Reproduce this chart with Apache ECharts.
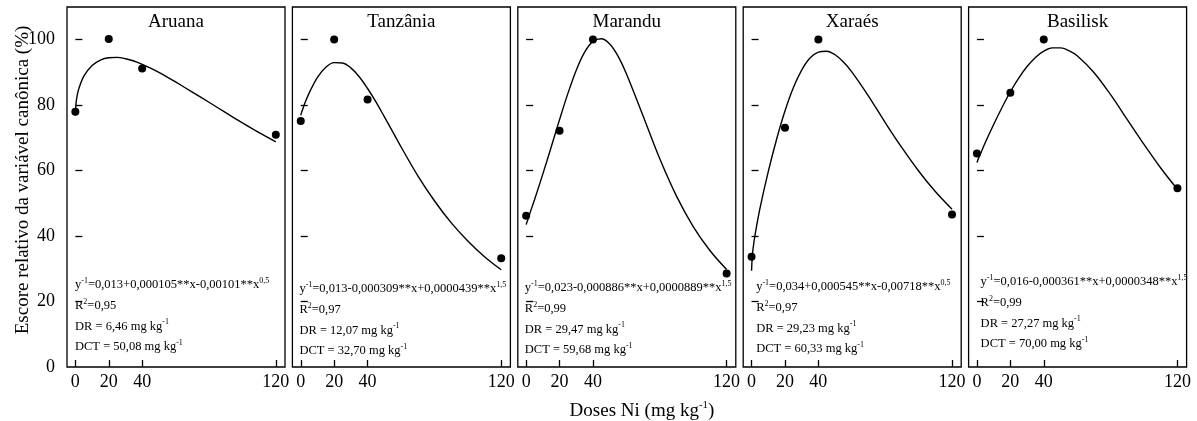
<!DOCTYPE html>
<html>
<head>
<meta charset="utf-8">
<script src="https://cdn.jsdelivr.net/npm/echarts@6/dist/echarts.min.js"></script>
<style>html,body{margin:0;padding:0;background:#fff;}#c{width:1197px;height:421px;}</style>
</head>
<body>
<div id="c"></div>
<script>
const cultivars = ['Aruana', 'Tanzânia', 'Marandu', 'Xaraés', 'Basilisk'];
const doses = [0, 20, 40, 120];
const doseTicks = [0, 20, 40, 120];
const scoreTicks = [0, 20, 40, 60, 80, 100];
const obsAruana = [78.0, 100.2, 91.2, 71.0];
const obsTanzania = [75.2, 100.1, 81.7, 33.2];
const obsMarandu = [46.2, 72.2, 100.1, 28.6];
const obsXaraes = [33.7, 73.1, 100.1, 46.6];
const obsBasilisk = [65.2, 83.8, 100.1, 54.6];
const fitDoses = [0, 0.5, 1, 2, 5, 10, 15, 20, 25, 30, 35, 40, 45, 50, 55, 60, 70, 80, 90, 100, 110, 120];
const fitAruana = [76.9, 81.0, 82.7, 84.9, 88.8, 92.1, 93.8, 94.5, 94.6, 94.2, 93.5, 92.5, 91.3, 90.0, 88.6, 87.1, 84.0, 80.9, 77.7, 74.6, 71.6, 68.8];
const fitTanzania = [76.9, 77.8, 78.5, 80.0, 83.7, 88.5, 91.6, 93.0, 92.9, 91.4, 88.7, 85.1, 81.0, 76.5, 71.9, 67.3, 58.5, 50.8, 44.1, 38.5, 33.7, 29.7];
const fitMarandu = [43.5, 44.3, 45.0, 46.6, 51.1, 59.0, 67.2, 75.6, 83.6, 90.7, 96.2, 99.5, 100.3, 98.7, 95.0, 89.6, 76.7, 63.6, 52.2, 42.9, 35.6, 29.8];
const fitXaraes = [29.4, 34.3, 36.5, 40.1, 48.4, 59.7, 69.6, 78.2, 85.3, 90.7, 94.4, 96.2, 96.5, 95.4, 93.2, 90.2, 82.8, 74.7, 67.0, 59.9, 53.6, 48.2];
const fitBasilisk = [62.5, 63.2, 63.8, 65.0, 68.6, 74.1, 79.3, 84.1, 88.3, 91.8, 94.6, 96.5, 97.5, 97.5, 96.7, 95.1, 90.0, 83.2, 75.6, 68.0, 60.8, 54.3];
const equations = [
  'y{s|-1}=0,013+0,000105**x-0,00101**x{s|0,5}',
  'y{s|-1}=0,013-0,000309**x+0,0000439**x{s|1,5}',
  'y{s|-1}=0,023-0,000886**x+0,0000889**x{s|1,5}',
  'y{s|-1}=0,034+0,000545**x-0,00718**x{s|0,5}',
  'y{s|-1}=0,016-0,000361**x+0,0000348**x{s|1,5}'
];
const r2Values = ['0,95', '0,97', '0,99', '0,97', '0,99'];
const drValues = ['6,46', '12,07', '29,47', '29,23', '27,27'];
const dctValues = ['50,08', '32,70', '59,68', '60,33', '70,00'];
const yTitle = 'Escore relativo da variável canônica (%)';
const xTitle = 'Doses Ni (mg kg{s|-1})';

const obsAll = [obsAruana, obsTanzania, obsMarandu, obsXaraes, obsBasilisk];
const fitAll = [fitAruana, fitTanzania, fitMarandu, fitXaraes, fitBasilisk];

const FONT = '"Liberation Serif", "Times New Roman", serif';
const GL = 67, GSTEP = 225.4, GW = 218, GT = 7, GH = 360;
const textLeft = [8, 7, 7, 13, 12];
const textTop = [285, 289, 288, 287, 282];
const supRich = { s: { fontSize: 8, fontFamily: FONT, verticalAlign: 'top', lineHeight: 8, fill: '#000' } };

const grids = [], xAxes = [], yAxes = [], series = [], graphics = [];
cultivars.forEach((name, i) => {
  const left = GL + i * GSTEP;
  grids.push({ left: left, top: GT, width: GW, height: GH, show: true, borderColor: '#000', borderWidth: 1.3, backgroundColor: 'transparent', containLabel: false });
  xAxes.push({
    type: 'value', gridIndex: i, min: -5, max: 125.5,
    axisLine: { show: false },
    splitLine: { show: false },
    axisTick: { show: true, inside: true, length: 7, customValues: doseTicks, lineStyle: { color: '#000', width: 1.3 } },
    axisLabel: { show: true, customValues: doseTicks, color: '#000', fontFamily: FONT, fontSize: 18, margin: 6 }
  });
  yAxes.push({
    type: 'value', gridIndex: i, min: 0, max: 110, interval: 20,
    axisLine: { show: false },
    splitLine: { show: false },
    axisTick: { show: true, inside: true, length: 7, customValues: [20, 40, 60, 80, 100], lineStyle: { color: '#000', width: 1.3 } },
    axisLabel: { show: i === 0, customValues: scoreTicks, color: '#000', fontFamily: FONT, fontSize: 18, margin: 12 }
  });
  series.push({
    type: 'line', xAxisIndex: i, yAxisIndex: i, showSymbol: false, smooth: 0.35,
    lineStyle: { color: '#000', width: 1.4 }, silent: true,
    data: fitDoses.map((d, k) => [d, fitAll[i][k]])
  });
  series.push({
    type: 'scatter', xAxisIndex: i, yAxisIndex: i, symbolSize: 8, itemStyle: { color: '#000', opacity: 1 }, silent: true,
    data: doses.map((d, k) => [d, obsAll[i][k]])
  });
  graphics.push({ type: 'text', x: left + GW / 2, y: 22, style: { text: name, font: '19px ' + FONT, fill: '#000', textAlign: 'center', textVerticalAlign: 'middle' } });
  const tx = left + textLeft[i], ty = textTop[i];
  const lines = [
    equations[i],
    'R{s|2}=' + r2Values[i],
    'DR = ' + drValues[i] + ' mg kg{s|-1}',
    'DCT = ' + dctValues[i] + ' mg kg{s|-1}'
  ];
  lines.forEach((t, k) => {
    graphics.push({ type: 'text', x: tx, y: ty + k * 20.7, style: { text: t, fontFamily: FONT, fontSize: 12.5, lineHeight: 16, fill: '#000', textAlign: 'left', textVerticalAlign: 'middle', rich: supRich } });
  });
});

graphics.push({ type: 'text', x: 23, y: 180, rotation: Math.PI / 2, style: { text: yTitle, font: '19px ' + FONT, fill: '#000', textAlign: 'center', textVerticalAlign: 'middle' } });
graphics.push({ type: 'text', x: 642, y: 411, style: { text: xTitle, fontFamily: FONT, fontSize: 19, lineHeight: 22, fill: '#000', textAlign: 'center', textVerticalAlign: 'middle', rich: { s: { fontSize: 11, fontFamily: FONT, verticalAlign: 'top', lineHeight: 11, fill: '#000' } } } });

const chart = echarts.init(document.getElementById('c'), null, { renderer: 'canvas' });
chart.setOption({
  animation: false,
  backgroundColor: '#fff',
  grid: grids, xAxis: xAxes, yAxis: yAxes, series: series, graphic: graphics
});
</script>
</body>
</html>
